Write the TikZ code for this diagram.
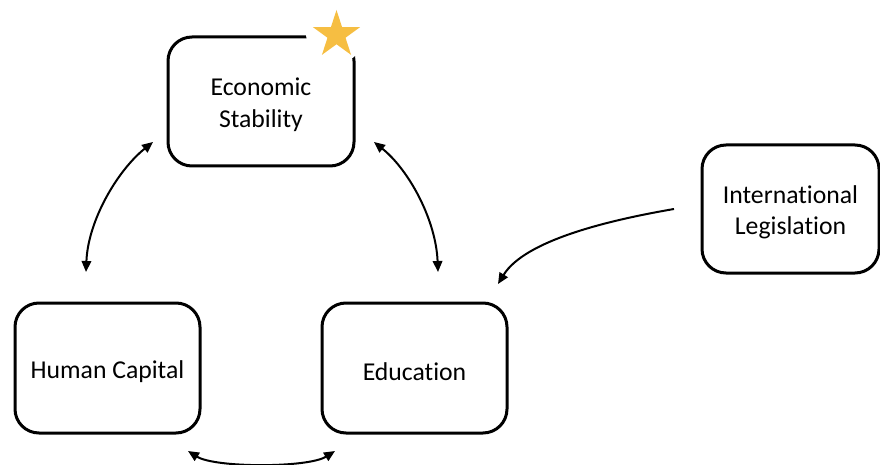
\documentclass[tikz,border=0pt]{standalone}
\usepackage{fontspec}
\setmainfont{Carlito}[Ligatures={NoCommon,NoRequired,NoContextual,NoRare},Contextuals=NoAlternate,RawFeature={-liga;-dlig;-calt}]
\usetikzlibrary{shapes.geometric,arrows.meta}
\definecolor{stargold}{RGB}{246,190,66}
\newcommand{\boxstrut}{\rule{0pt}{24.5pt}}
\begin{document}
\begin{tikzpicture}[x=1pt,y=-1pt,
  box/.style={draw=black, line width=3pt, rounded corners=24pt, align=center,
    font=\fontsize{25.7}{31.8}\selectfont, inner sep=0pt, outer sep=0pt},
  tip/.tip={Triangle[length=11pt,width=9.5pt]},
  conn/.style={line width=2pt, tip-tip},
  oneway/.style={line width=2pt, -tip}]
\useasboundingbox (0,0) rectangle (880,465);
\node[box, minimum width=186pt, minimum height=129pt] (econ) at (261,101.5) {\boxstrut Economic\\Stability};
\node[box, minimum width=185pt, minimum height=130pt] (human) at (107.5,368) {\boxstrut Human Capital};
\node[box, minimum width=185pt, minimum height=130pt] (edu) at (414.5,368) {\boxstrut Education};
\node[box, minimum width=177pt, minimum height=128pt] (intl) at (790.5,209) {\boxstrut International\\Legislation};
% star with white halo
\node[circle, fill=white, minimum size=60pt, inner sep=0pt] (halo) at (336,33) {};
\node[star, star points=5, star point ratio=2.618, minimum size=49.6pt, inner sep=0pt, outer sep=0pt, fill=stargold] (star) at (336.5,34.8) {};
% connector end points
\coordinate (e1) at (153,142);
\coordinate (h1) at (86,272);
\coordinate (e2) at (374,142);
\coordinate (d1) at (438,272);
\coordinate (i1) at (674,209);
\coordinate (d2) at (498,284);
\coordinate (h2) at (188,451);
\coordinate (d3) at (335,451);
\draw[conn] (e1) .. controls (118,170) and (88,220) .. (h1);
\draw[conn] (e2) .. controls (409,170) and (436,220) .. (d1);
\draw[oneway] (i1) .. controls (610,220) and (525,240) .. (d2);
\draw[conn] (h2) .. controls (215,468) and (308,468) .. (d3);
\end{tikzpicture}
\end{document}
